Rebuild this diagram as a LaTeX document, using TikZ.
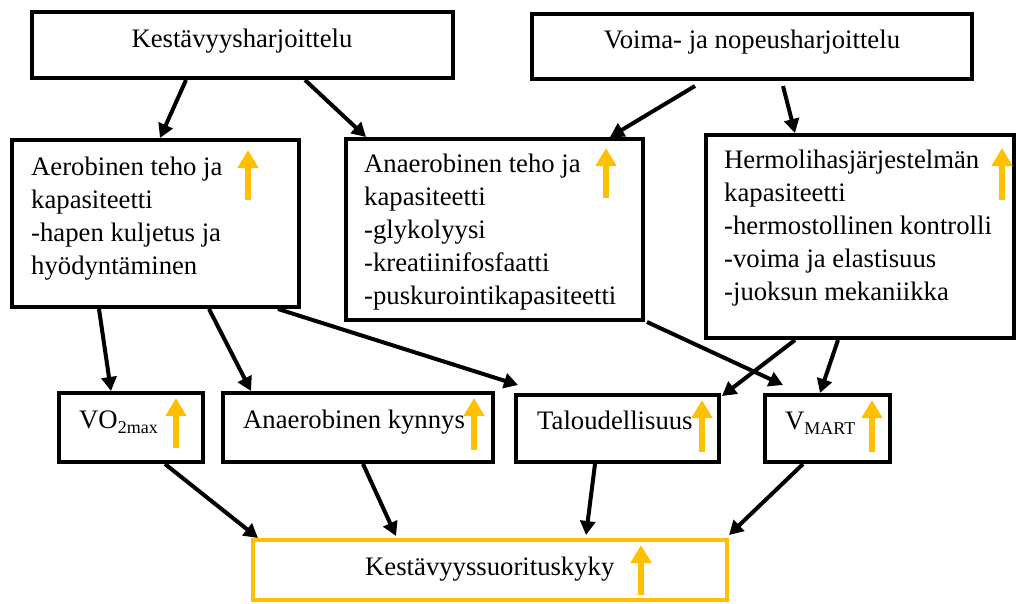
\documentclass[tikz,border=0pt]{standalone}
\usepackage{fontspec}
\setmainfont{Liberation Serif}
\usetikzlibrary{arrows.meta,calc}
\definecolor{gold}{HTML}{FFC000}
\begin{document}
\begin{tikzpicture}[x=1pt,y=-1pt,
  box/.style={draw=black,line width=4pt,inner sep=0pt},
  ybox/.style={draw=gold,line width=4pt,inner sep=0pt},
  txt/.style={inner sep=0pt,font=\fontsize{26.7}{33}\selectfont,align=left},
  conn/.style={line width=4pt,-{Triangle[length=14pt,width=15pt]}},
  yup/.style={draw=gold,line width=6pt,-{Triangle[length=18pt,width=20pt]}}]
\useasboundingbox (0,0) rectangle (1016,603);

% boxes
\node[box,minimum width=421pt,minimum height=66pt] (k1) at (242.5,45) {};
\node[box,minimum width=440pt,minimum height=65pt] (k2) at (752,46.5) {};
\node[box,minimum width=287pt,minimum height=167pt] (aero) at (155.5,223.5) {};
\node[box,minimum width=297pt,minimum height=181pt] (anat) at (494.5,229.5) {};
\node[box,minimum width=308pt,minimum height=203pt] (hermo) at (860,236.5) {};
\node[box,minimum width=144pt,minimum height=69pt] (vo2) at (131,427.5) {};
\node[box,minimum width=270pt,minimum height=69pt] (kyn) at (358,427.5) {};
\node[box,minimum width=203pt,minimum height=67pt] (tal) at (617.5,428.5) {};
\node[box,minimum width=125pt,minimum height=67pt] (vmart) at (827.5,428.5) {};
\node[ybox,minimum width=474pt,minimum height=60pt] (kest) at (490,570) {};

% texts (multi-line nodes: base anchor is the last line's baseline)
\node[txt,anchor=base] (k1t) at (242,47) {Kestävyysharjoittelu};
\node[txt,anchor=base] (k2t) at (752,48) {Voima- ja nopeusharjoittelu};
\node[txt,anchor=base west] (aerot) at (31,274) {Aerobinen teho ja\\kapasiteetti\\-hapen kuljetus ja\\hyödyntäminen};
\node[txt,anchor=base west] (anatt) at (364,304) {Anaerobinen teho ja\\kapasiteetti\\-glykolyysi\\-kreatiinifosfaatti\\-puskurointikapasiteetti};
\node[txt,anchor=base west] (hermot) at (724,300) {Hermolihasjärjestelmän\\kapasiteetti\\-hermostollinen kontrolli\\-voima ja elastisuus\\-juoksun mekaniikka};
\node[txt,anchor=base west] (vo2t) at (79,428) {VO\raisebox{-5pt}{\fontsize{18}{18}\selectfont 2max}};
\node[txt,anchor=base west] (kynt) at (243,428) {Anaerobinen kynnys};
\node[txt,anchor=base west] (talt) at (537,429) {Taloudellisuus};
\node[txt,anchor=base west] (vmartt) at (785,429) {V\raisebox{-5pt}{\fontsize{18}{18}\selectfont MART}};
\node[txt,anchor=base west] (kestt) at (365,575) {Kestävyyssuorituskyky};

% connectors
\draw[conn] ($(k1.south west)+(156,0)$) -- ($(aero.north west)+(150,0)$);
\draw[conn] ($(k1.south west)+(275,0)$) -- ($(anat.north west)+(22,0)$);
\draw[conn] ($(k2.south west)+(165,5)$) -- ($(anat.north west)+(266,0)$);
\draw[conn] ($(k2.south west)+(253,5)$) -- ($(hermo.north west)+(91,0)$);
\draw[conn] ($(aero.south west)+(89,0)$) -- ($(vo2.north west)+(54,0)$);
\draw[conn] ($(aero.south west)+(199,0)$) -- ($(kyn.north west)+(30,0)$);
\draw[conn] ($(aero.south west)+(268,0)$) -- ($(tal.north west)+(4,-8)$);
\draw[conn] ($(anat.south east)+(2,0)$) -- ($(vmart.north west)+(20,-8)$);
\draw[conn] ($(hermo.south west)+(91,0)$) -- ($(tal.north east)+(1,3)$);
\draw[conn] ($(hermo.south west)+(134,0)$) -- ($(vmart.north west)+(57,0)$);
\draw[conn] ($(vo2.south west)+(108,0)$) -- ($(kest.north west)+(7,0)$);
\draw[conn] ($(kyn.south west)+(142,0)$) -- ($(kest.north west)+(145,-2)$);
\draw[conn] ($(tal.south west)+(81,0)$) -- ($(kest.north west)+(335,-3)$);
\draw[conn] ($(vmart.south west)+(40,0)$) -- ($(kest.north east)+(0,-3)$);

% yellow up arrows
\draw[yup] (248,200) -- (248,150);
\draw[yup] (606,198) -- (606,148);
\draw[yup] (1002,200) -- (1002,148);
\draw[yup] (176,448) -- (176,398);
\draw[yup] (474,450) -- (474,398);
\draw[yup] (702,452) -- (702,400);
\draw[yup] (872,452) -- (872,400);
\draw[yup] (641,595) -- (641,545);
\end{tikzpicture}
\end{document}
